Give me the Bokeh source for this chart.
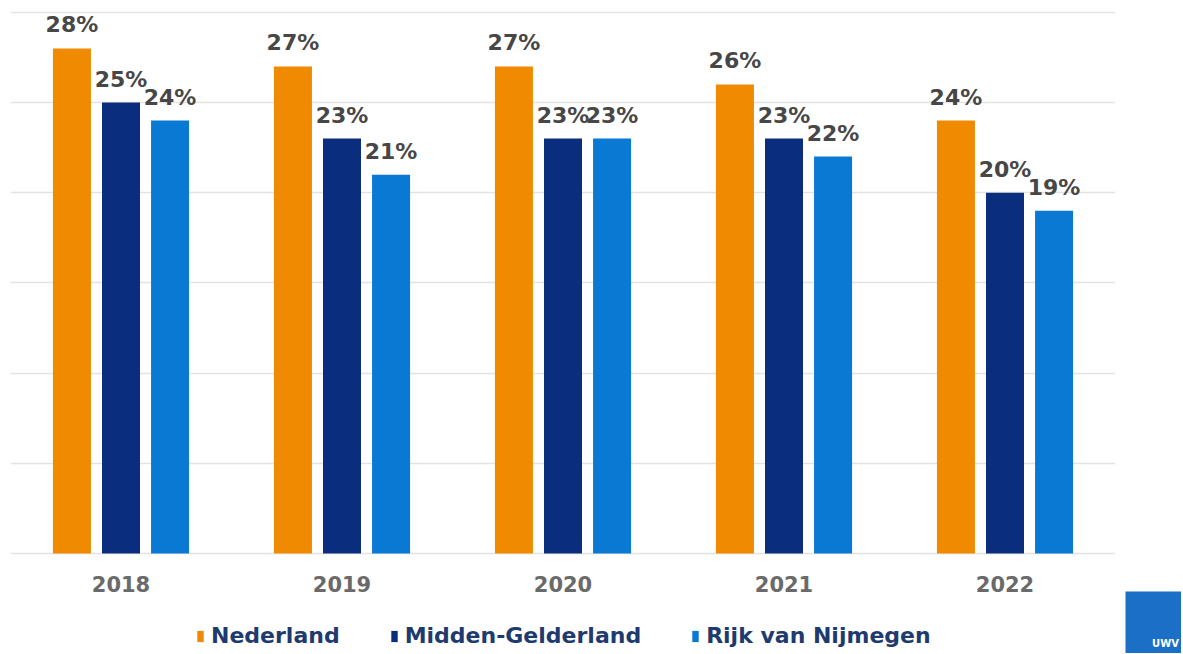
from bokeh.plotting import figure
from bokeh.models import (ColumnDataSource, FactorRange, Range1d, LabelSet, Legend, LegendItem,
                          Label, Spacer)
from bokeh.layouts import row, column
from bokeh.transform import dodge
from bokeh.core.properties import value
from bokeh.embed import file_html
from bokeh.resources import INLINE

years = ["2018", "2019", "2020", "2021", "2022"]
series_names = ["Nederland", "Midden-Gelderland", "Rijk van Nijmegen"]
nederland = [28, 27, 27, 26, 24]
midden_gelderland = [25, 23, 23, 23, 20]
rijk_van_nijmegen = [24, 21, 23, 22, 19]
colors = ["#F08A00", "#0A2E7D", "#0A79D3"]
offsets = [-0.222, 0.0, 0.222]
grid_ticks = [0, 5, 10, 15, 20, 25, 30]

FONT = "DejaVu Sans"

# frame spans window y 10..653; value 0 sits at y=553, 30.1 at the top
TOP = 30.1
px_per_unit = 543 / TOP
BOTTOM = -(643 - 543) / px_per_unit

p = figure(x_range=FactorRange(*years, range_padding=0), y_range=Range1d(BOTTOM, TOP),
           frame_width=1105, frame_height=643,
           min_border_left=10, min_border_top=10, min_border_right=10, min_border_bottom=0,
           output_backend="svg", toolbar_location=None)
p.outline_line_color = None
p.background_fill_color = "white"
p.border_fill_color = "white"

p.yaxis.visible = False
p.ygrid.ticker = grid_ticks
p.ygrid.grid_line_color = "#E3E3E3"
p.ygrid.grid_line_width = 1.5
p.xgrid.grid_line_color = None

ax = p.xaxis[0]
ax.fixed_location = 0
ax.axis_line_color = None
ax.major_tick_line_color = None
ax.minor_tick_line_color = None
ax.major_tick_out = 0
ax.major_tick_in = 0
ax.major_label_standoff = 22
ax.major_label_text_font = FONT
ax.major_label_text_font_style = "bold"
ax.major_label_text_font_size = "21px"
ax.major_label_text_color = "#6A6A6A"

items = []
for name, vals, col, off in zip(series_names, [nederland, midden_gelderland, rijk_van_nijmegen], colors, offsets):
    src = ColumnDataSource(dict(year=years, val=vals, lab=[f"{v}%" for v in vals]))
    r = p.vbar(x=dodge("year", off, range=p.x_range), top="val", bottom=0, width=0.172, source=src,
               fill_color=col, line_color=None)
    items.append(LegendItem(label=name, renderers=[r]))
    labels = LabelSet(x=dodge("year", off, range=p.x_range), y="val", text="lab", source=src,
                      text_align="center", text_baseline="alphabetic", y_offset=16,
                      text_font=value(FONT), text_font_style="bold", text_font_size="22px",
                      text_color="#474747")
    p.add_layout(labels)

legend = Legend(items=items, orientation="horizontal", location=(186, 5))
legend.border_line_color = None
legend.background_fill_alpha = 0
legend.glyph_width = 8
legend.glyph_height = 14
legend.label_standoff = 7
legend.spacing = 50
legend.padding = 4
legend.margin = 0
legend.label_text_font = FONT
legend.label_text_font_style = "bold"
legend.label_text_font_size = "22px"
legend.label_text_color = "#1E3A6E"
p.add_layout(legend)

# UWV logo box, bottom right
logo = figure(width=56, height=62, x_range=Range1d(0, 1), y_range=Range1d(0, 1),
              min_border=0, output_backend="svg", toolbar_location=None)
logo.axis.visible = False
logo.grid.visible = False
logo.outline_line_color = None
logo.background_fill_color = "#1B6FC6"
logo.border_fill_color = "#1B6FC6"
logo.add_layout(Label(x=40, y=10, x_units="screen", y_units="screen", text="UWV",
                      text_align="center", text_baseline="middle",
                      text_font=FONT, text_font_style="bold", text_font_size="10px",
                      text_color="white"))

layout = row(p, column(Spacer(height=591, width=56), logo))

open("out.html", "w").write(file_html(layout, INLINE))
